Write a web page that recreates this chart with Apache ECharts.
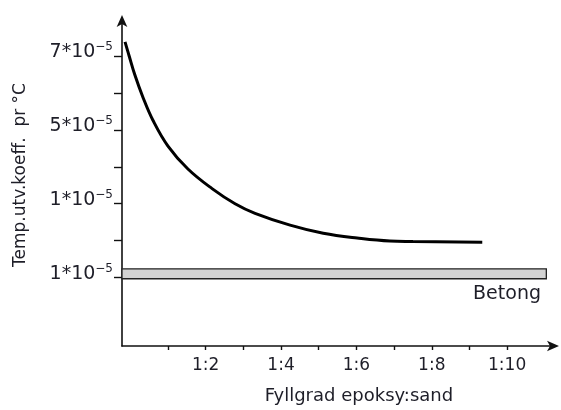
<!DOCTYPE html>
<html><head><meta charset="utf-8">
<script src="https://cdn.jsdelivr.net/npm/echarts@6/dist/echarts.min.js"></script>
<style>html,body{margin:0;padding:0;background:#fff}#c{width:561px;height:410px}</style>
</head><body><div id="c"></div>
<script>
// Curve: x = filler ratio (1:x), y = coefficient (×10^-5 per °C)
const curveX = [-0.14, -0.03, 0.12, 0.34, 0.60, 1.0, 1.53, 2.17, 2.78, 3.31, 4.24, 5.12, 6.02, 6.89, 7.50, 9.34];
const curveY = [7.38, 7.00, 6.49, 5.87, 5.26, 4.56, 3.94, 3.41, 3.00, 2.74, 2.42, 2.20, 2.07, 1.99, 1.98, 1.96];
// Concrete (Betong) band
const bandX = [-0.22, 11.04];
const bandY = [0.97, 1.24];
const bandLabel = 'Betong';
// Ticks
const xTicks = [1, 2, 3, 4, 5, 6, 7, 8, 9, 10];
const xLabelVals = [2, 4, 6, 8, 10];
const xLabelText = ['1:2', '1:4', '1:6', '1:8', '1:10'];
const yTicks = [1, 2, 3, 4, 5, 6, 7];
const yLabelVals = [1, 3, 5, 7];
const yLabelMant = ['1', '1', '5', '7'];
const yLabelExp = '−5';

const font = 'DejaVu Sans, Verdana, sans-serif';
const txt = '#1e1e28';
const chart = echarts.init(document.getElementById('c'));
chart.setOption({
  animation: false,
  grid: { left: 122, right: 6, top: 19, bottom: 61 },
  xAxis: {
    type: 'value', min: -0.22, max: 11.27,
    name: 'Fyllgrad epoksy:sand', nameLocation: 'middle', nameGap: 41,
    nameTextStyle: { fontFamily: font, fontSize: 18, color: txt, padding: [0, 0, 0, 41] },
    axisLine: { show: true, onZero: false, symbol: ['none', 'arrow'], symbolSize: [8, 12], symbolOffset: [0, 4], lineStyle: { color: '#111', width: 1.6 } },
    axisTick: { show: true, length: 4, customValues: xTicks, lineStyle: { color: '#111', width: 1.4 } },
    axisLabel: {
      customValues: xLabelVals, margin: 11, fontFamily: font, fontSize: 17, color: txt,
      formatter: v => xLabelText[xLabelVals.indexOf(v)]
    },
    splitLine: { show: false }
  },
  yAxis: {
    type: 'value', min: -0.85, max: 8.0,
    name: 'Temp.utv.koeff.  pr °C', nameLocation: 'middle', nameGap: 93,
    nameTextStyle: { fontFamily: font, fontSize: 17, color: txt, padding: [0, 0, 0, 15] },
    axisLine: { show: true, onZero: false, symbol: ['none', 'arrow'], symbolSize: [8, 12], symbolOffset: [0, 4], lineStyle: { color: '#111', width: 1.6 } },
    axisTick: { show: true, length: 8, customValues: yTicks, lineStyle: { color: '#111', width: 1.4 } },
    axisLabel: {
      customValues: yLabelVals, margin: 9, color: txt, padding: [0, 0, 8, 0],
      formatter: v => '{a|' + yLabelMant[yLabelVals.indexOf(v)] + '*10}{b|' + yLabelExp + '}',
      rich: {
        a: { fontFamily: font, fontSize: 19, color: txt },
        b: { fontFamily: font, fontSize: 12, color: txt, padding: [0, 0, 10, 0] }
      }
    },
    splitLine: { show: false }
  },
  series: [
    {
      type: 'line', smooth: 0.4, symbol: 'none',
      data: curveX.map((x, i) => [x, curveY[i]]),
      lineStyle: { color: '#000', width: 3 },
      z: 3
    },
    {
      type: 'line', data: [], symbol: 'none',
      markArea: {
        silent: true,
        itemStyle: { color: '#d3d3d3', borderColor: '#222', borderWidth: 1.3 },
        label: { show: true, position: 'insideBottomRight', offset: [-1, 29], fontFamily: font, fontSize: 19, color: txt },
        data: [[{ coord: [bandX[0], bandY[1]], name: bandLabel }, { coord: [bandX[1], bandY[0]] }]]
      }
    }
  ]
});
</script></body></html>
